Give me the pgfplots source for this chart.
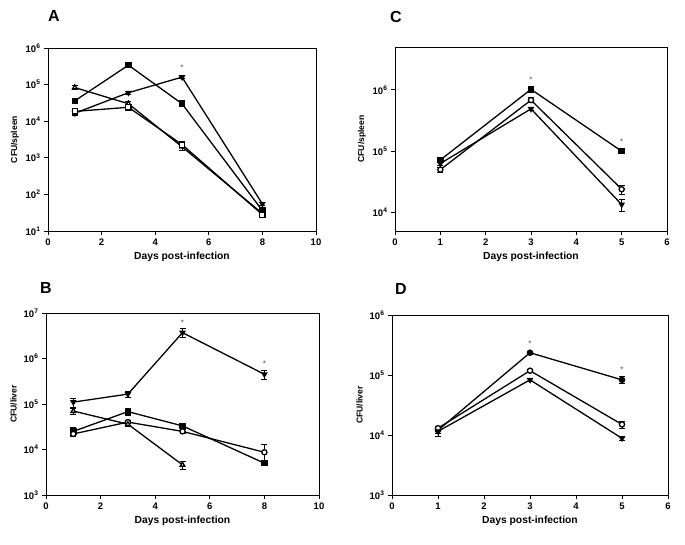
\documentclass[border=0pt]{standalone}
\usepackage{pgfplots}
\pgfplotsset{compat=1.18}
\usepackage{fontspec}
\setmainfont{Liberation Sans}

\pgfplotsset{
  cfuaxis/.style={
    scale only axis, yminorticks=false,
    axis line style={line width=0.9pt},
    tick align=outside, xtick pos=left, ytick pos=left,
    tick style={black, line width=0.8pt}, major tick length=4pt,
    xticklabel={\textbf{\pgfmathprintnumber[assume math mode=true]{\tick}}},
    tick label style={font=\bfseries\fontsize{9.5}{11}\selectfont},
    xlabel style={font=\bfseries\fontsize{10.3}{12}\selectfont},
    ylabel style={font=\bfseries\fontsize{8.6}{10}\selectfont},
    xlabel={Days post-infection},
    clip=false,
    every axis plot/.append style={black, line width=1.3pt, mark size=2.6pt},
  },
  ebar/.style={/pgfplots/error bars/y dir=both, /pgfplots/error bars/y explicit,
    /pgfplots/error bars/error bar style={line width=0.8pt, solid},
    /pgfplots/error bars/error mark options={rotate=90, mark size=3pt, line width=0.8pt}},
}
\tikzset{
  mkfsq/.style={mark=square*, mark options={fill=black, solid}},
  mkosq/.style={mark=square*, mark options={fill=white, solid}},
  mkftri/.style={mark=triangle*, mark options={fill=black, rotate=180, solid}},
  mkotri/.style={mark=triangle*, mark options={fill=white, solid}},
  mkfcir/.style={mark=*, mark options={fill=black, solid}},
  mkocir/.style={mark=*, mark options={fill=white, solid}},
  asterisk/.style={font=\fontsize{8}{8}\selectfont, text=black!70},
  letter/.style={font=\bfseries\fontsize{16}{18}\selectfont},
}
\newcommand{\tp}[1]{\textbf{10\textsuperscript{#1}}}

\begin{document}
\begin{tikzpicture}
\useasboundingbox (0,0) rectangle (685pt,544pt);

% ---------- A: spleen ----------
\begin{semilogyaxis}[cfuaxis, at={(48pt,313pt)}, anchor=south west, width=268pt, height=183pt,
  xmin=0, xmax=10, xtick={0,2,...,10}, ymin=10, ymax=1e6,
  ytick={10,100,1000,10000,100000,1000000},
  yticklabels={\tp{1},\tp{2},\tp{3},\tp{4},\tp{5},\tp{6}},
  ylabel={CFU/spleen}]
\addplot[mkfsq, ebar] table[y error index=2] {
1 3.6e4 4e3
3 3.4e5 4e4
5 3.0e4 3e3
8 36 5
};
\addplot[mkftri, ebar] table[y error index=2] {
1 1.65e4 2e3
3 6.0e4 6e3
5 1.6e5 1.5e4
8 55 6
};
\addplot[mkotri, ebar] table[y error index=2] {
1 8.3e4 1e4
3 3.0e4 4e3
5 2.0e3 4e2
8 30 4
};
\addplot[mkosq, ebar] table[y error index=2] {
1 1.85e4 2e3
3 2.4e4 3e3
5 2.3e3 3e2
8 28 3
};
\node[asterisk] at (axis cs:5,2.8e5) {*};
\end{semilogyaxis}

% ---------- C: spleen ----------
\begin{semilogyaxis}[cfuaxis, at={(395pt,313pt)}, anchor=south west, width=272pt, height=184pt,
  xmin=0, xmax=6, xtick={0,...,6}, ymin=5e3, ymax=5e6,
  ytick={10000,100000,1000000},
  yticklabels={\tp{4},\tp{5},\tp{6}},
  ylabel={CFU/spleen}]
\addplot[mkfsq, ebar] table[y error index=2] {
1 7.2e4 6e3
3 1.02e6 8e4
5 1.0e5 6e3
};
\addplot[mkocir, ebar] table[y error index=2] {
1 5.0e4 5e3
3 6.8e5 6e4
5 2.4e4 4e3
};
\addplot[mkftri, ebar] table[y error index=2] {
1 6.3e4 5e3
3 4.9e5 3e4
5 1.35e4 3e3
};
\node[asterisk] at (axis cs:3,1.45e6) {*};
\node[asterisk] at (axis cs:5,1.4e5) {*};
\end{semilogyaxis}

% ---------- B: liver ----------
\begin{semilogyaxis}[cfuaxis, at={(46pt,49pt)}, anchor=south west, width=273pt, height=182pt,
  xmin=0, xmax=10, xtick={0,2,...,10}, ymin=1e3, ymax=1e7,
  ytick={1000,10000,100000,1000000,10000000},
  yticklabels={\tp{3},\tp{4},\tp{5},\tp{6},\tp{7}},
  ylabel={CFU/liver}]
\addplot[mkftri, ebar] table[y error index=2] {
1 1.1e5 2.5e4
3 1.65e5 2.5e4
5 3.7e6 8e5
8 4.5e5 1e5
};
\addplot[mkfsq, ebar] table[y error index=2] {
1 2.5e4 5e3
3 6.8e4 1.2e4
5 3.3e4 4e3
8 5.0e3 6e2
};
\addplot[mkocir, ebar] table[y error index=2] {
1 2.2e4 3e3
3 4.0e4 3e3
5 2.5e4 2e3
8 8.7e3 4e3
};
\addplot[mkotri, ebar] table[y error index=2] {
1 7.0e4 1.2e4
3 3.6e4 3e3
5 4.6e3 1e3
};
\node[asterisk] at (axis cs:5,6.2e6) {*};
\node[asterisk] at (axis cs:8,7.5e5) {*};
\end{semilogyaxis}

% ---------- D: liver ----------
\begin{semilogyaxis}[cfuaxis, at={(392pt,49pt)}, anchor=south west, width=276pt, height=180pt,
  xmin=0, xmax=6, xtick={0,...,6}, ymin=1e3, ymax=1e6,
  ytick={1000,10000,100000,1000000},
  yticklabels={\tp{3},\tp{4},\tp{5},\tp{6}},
  ylabel={CFU/liver}]
\addplot[mkfcir, ebar] table[y error index=2] {
1 1.2e4 1.5e3
3 2.35e5 1.5e4
5 8.3e4 1e4
};
\addplot[mkocir, ebar] table[y error index=2] {
1 1.3e4 1e3
3 1.18e5 6e3
5 1.5e4 2e3
};
\addplot[mkftri, ebar] table[y error index=2] {
1 1.15e4 2e3
3 8.3e4 5e3
5 8.8e3 7e2
};
\node[asterisk] at (axis cs:3,3.3e5) {*};
\node[asterisk] at (axis cs:5,1.24e5) {*};
\end{semilogyaxis}

\node[letter] at (54pt,528pt) {A};
\node[letter] at (396pt,527pt) {C};
\node[letter] at (46pt,256pt) {B};
\node[letter] at (401pt,255pt) {D};
\end{tikzpicture}
\end{document}
